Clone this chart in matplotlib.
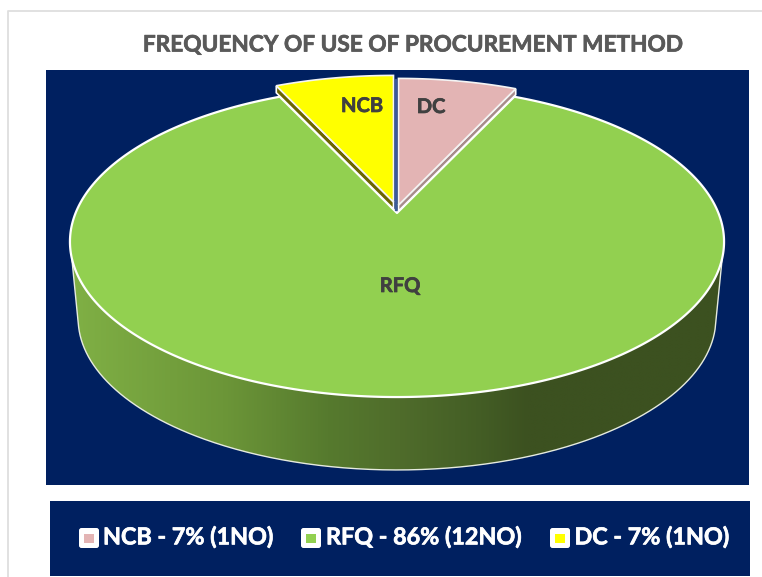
import numpy as np
import matplotlib
matplotlib.use("Agg")
import matplotlib.pyplot as plt
import matplotlib.patheffects as pe
from matplotlib.patches import Rectangle, FancyBboxPatch, Polygon
from matplotlib.colors import LinearSegmentedColormap

title = "FREQUENCY OF USE OF PROCUREMENT METHOD"
categories = ["NCB", "RFQ", "DC"]
shares = [7, 86, 7]
counts = [1, 12, 1]
slice_colors = ["#E3B4B4", "#92D050", "#FFFF00"]
slice_labels = ["DC", "RFQ", "NCB"]
navy = "#002060"

plt.rcParams['font.family'] = ['Lato', 'DejaVu Sans']
fig = plt.figure(figsize=(7.62, 5.77), dpi=100, facecolor="white")
ax = fig.add_axes([0, 0, 1, 1])
ax.axis("off")


def bold(width, color):
    return [pe.withStroke(linewidth=width, foreground=color)]


# frame and navy panels
ax.plot([8, 8, 762], [577, 10.5, 10.5], color="#DEDEDE", lw=1.3, zorder=1)
ax.add_patch(Rectangle((46, 70), 702.5, 415, fc=navy, ec="none", zorder=1))
ax.add_patch(Rectangle((50, 501), 700, 75, fc=navy, ec="none", zorder=1))
ax.text(413.5, 45, title, ha="center", va="center", fontsize=16.3,
        fontweight="bold", color="#595959", path_effects=bold(0.5, "#595959"))

CX, K, A, B = 397.0, 0.185, 150.0, 321.4


def project(theta, cx=CX, cy=213.0, scale=1.0):
    """Clockwise angle from 12 o'clock -> perspective disc position."""
    u, v = np.sin(theta), np.cos(theta)
    d = 1 + K * v
    return cx + scale * B * u / d, cy - scale * A * v / d


edges = np.deg2rad(np.concatenate([[0], np.cumsum(shares)]) * 3.6)
th0, th1, th2 = edges[0], edges[1], edges[2]

# side wall of the big slice: horizontal gradient clipped to the wall outline
stops = [(78, "#80B045"), (227, "#6C9638"), (330, "#567A2E"), (400, "#4F6C2B"),
         (480, "#435D25"), (525, "#3C5120"), (716, "#3C5120")]
wall_cmap = LinearSegmentedColormap.from_list(
    "wall", [((p - 78) / (716 - 78), c) for p, c in stops])
ts = np.linspace(th1, th2, 800)
xt, yt = project(ts)
xb, yb = project(ts, cy=290.5, scale=0.975)
mt = yt > 258
mb = yb > 325
outline = np.r_[np.c_[xt[mt], yt[mt]], np.c_[xb[mb], yb[mb]][::-1]]
clip = Polygon(outline, closed=True, fc="none", ec="none", transform=ax.transData)
ax.add_patch(clip)
im = ax.imshow(np.linspace(0, 1, 512)[None, :], cmap=wall_cmap, vmin=0, vmax=1,
               extent=(70, 724, 480, 250), aspect="auto", zorder=2, interpolation="bilinear")
im.set_clip_path(clip)
ax.plot(np.r_[xt[mt][0], xb[mb], xt[mt][-1]], np.r_[yt[mt][0], yb[mb], yt[mt][-1]],
        color="#E6EBDF", lw=1.0, zorder=3)

# big slice top
tt = np.linspace(th1, th2, 600)
x, y = project(tt)
ax.add_patch(Polygon(np.c_[np.r_[CX, x], np.r_[213, y]], closed=True,
                     fc=slice_colors[1], ec="white", lw=1.6, joinstyle="round", zorder=4))


# small raised slices
def raised(t1, t2, cx, cy, color, wall_color, wall_edge, depth):
    t = np.linspace(t1, t2, 60)
    px, py = project(t, cx, cy)
    ex, ey = project(np.array([wall_edge]), cx, cy)
    ax.add_patch(Polygon([[ex[0], ey[0]], [cx, cy], [cx, cy + depth], [ex[0], ey[0] + depth]],
                         closed=True, fc=wall_color, ec="white", lw=1.2, zorder=5))
    ax.add_patch(Polygon(np.c_[np.r_[cx, px], np.r_[cy, py]], closed=True,
                         fc=color, ec="#F4F4F4", lw=1.2, zorder=6))


ax.plot([396, 396], [80, 210], color="#3B5A9A", lw=1.6, zorder=4.5)
raised(th0, th1, 398.5, 205.0, slice_colors[0], "#A88C8C", th1, 6)
raised(th2, 2 * np.pi, 393.5, 202.0, slice_colors[2], "#6B6500", th2, 7)

label_xy = [(431, 107), (400, 286), (362, 106)]
for s, (lx, ly) in zip(slice_labels, label_xy):
    ax.text(lx, ly, s, ha="center", va="center", fontsize=14.5, fontweight="bold",
            color="#404040", zorder=8, path_effects=bold(0.5, "#404040"))

# legend
marker_x = [79, 301, 550]
text_x = [103, 326, 574.5]
for mx, tx, cat, sh, n, col in zip(marker_x, text_x, categories, shares, counts, slice_colors):
    ax.add_patch(FancyBboxPatch((mx + 1.5, 529.5), 17, 17, boxstyle="round,pad=1.5,rounding_size=2.5",
                                fc="white", ec="none", zorder=3))
    ax.add_patch(Rectangle((mx + 5, 533.5), 9.5, 9.5, fc=col, ec="none", zorder=4))
    ax.text(tx, 537.5, f"{cat} - {sh}% ({n}NO)", ha="left", va="center", fontsize=16.8,
            fontweight="bold", color="white", zorder=4, path_effects=bold(0.5, "white"))

ax.set_xlim(0, 762)
ax.set_ylim(577, 0)
fig.savefig("out.png", dpi=100)
